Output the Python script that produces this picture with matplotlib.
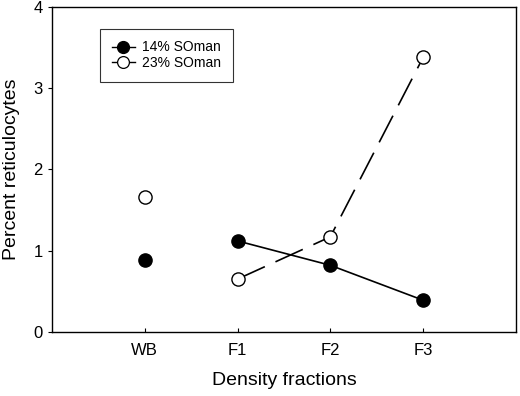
import matplotlib.pyplot as plt

plt.rcParams['font.family'] = ['Liberation Sans', 'DejaVu Sans']

# Data
fractions = ['WB', 'F1', 'F2', 'F3']
positions = [1, 2, 3, 4]
soman14 = [0.88, 1.12, 0.82, 0.39]
soman23 = [1.66, 0.65, 1.17, 3.38]

fig = plt.figure(figsize=(5.2, 3.96), dpi=100)
ax = fig.add_axes([0.1, 0.162, 0.892, 0.82])

# WB point is plotted on its own, the fractions are joined by lines
ax.plot(positions[1:], soman14[1:], '-', color='black', lw=1.2, zorder=2)
ax.plot(positions[1:], soman23[1:], '--', color='black', lw=1.2,
        dashes=(18, 7), zorder=2)
ax.plot(positions, soman14, 'o', color='black', ms=9.5, zorder=3)
ax.plot(positions, soman23, 'o', mfc='white', mec='black', mew=1.0, ms=9.5, zorder=3)

# legend handles (line + marker)
h1, = ax.plot([], [], '-o', color='black', ms=8.5, lw=1.0)
h2, = ax.plot([], [], '-o', color='black', mfc='white', mew=0.9, ms=8.5, lw=1.0)
leg = ax.legend([h1, h2], ['14% SOman', '23% SOman'], loc='upper left',
                bbox_to_anchor=(0.088, 0.955), fontsize=10, frameon=True,
                fancybox=False, edgecolor='black', handlelength=1.7,
                handletextpad=0.5, borderpad=0.85, labelspacing=0.1)
leg.get_frame().set_linewidth(0.8)

ax.set_xlim(0, 5)
ax.set_ylim(0, 4)
ax.set_xticks(positions)
ax.set_xticklabels(fractions)
ax.set_yticks([0, 1, 2, 3, 4])
ax.tick_params(axis='x', direction='in', length=3, labelsize=12, pad=8)
ax.tick_params(axis='y', direction='out', length=3, labelsize=12)
for s in ax.spines.values():
    s.set_linewidth(1.0)

ax.set_xlabel('Density fractions', fontsize=14, labelpad=10)
ax.set_ylabel('Percent reticulocytes', fontsize=14, labelpad=10)

fig.savefig('out.png', dpi=100)
